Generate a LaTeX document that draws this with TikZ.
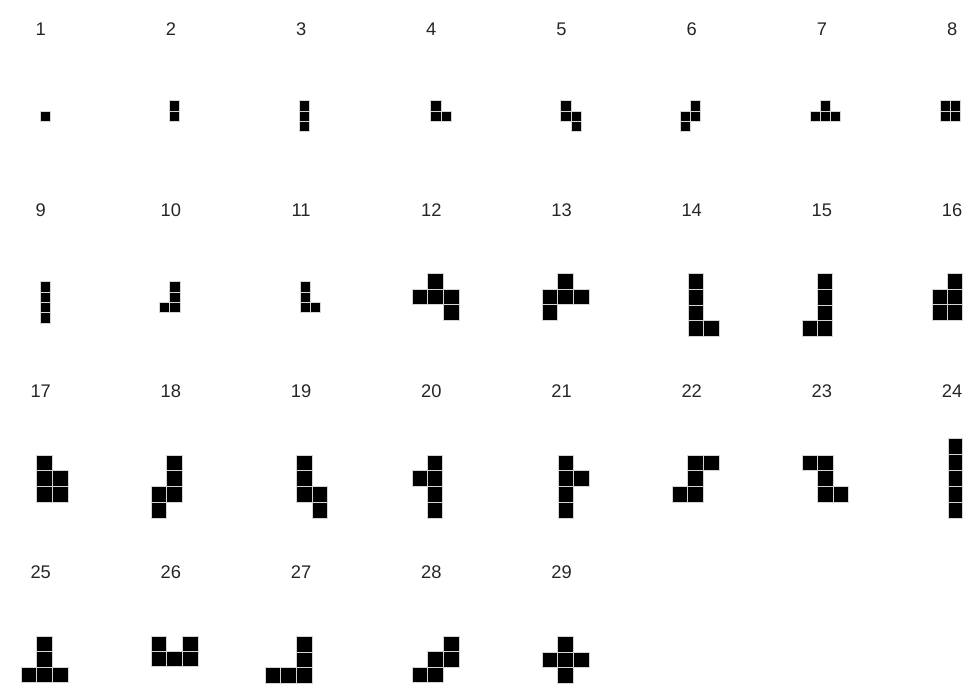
\documentclass[tikz,border=0pt]{standalone}
\usepackage{fontspec}
\setmainfont{Liberation Sans}
\definecolor{labelgray}{HTML}{262626}
\definecolor{seamgray}{HTML}{D4D4D4}
% one piece: x0, y0, cell width, cell height, list of col/row
\newcommand{\piece}[5]{%
  \foreach \c/\r in {#5}
    \filldraw[cell] ({#1+\c*#3},{#2+\r*#4}) rectangle +(#3,#4);
}
\begin{document}
\begin{tikzpicture}[
    x=1pt, y=-1pt,
    cell/.style={fill=black, draw=seamgray, line width=1pt},
    num/.style={text=labelgray, font=\fontsize{18.3}{21}\selectfont, inner sep=0pt}
]
    \useasboundingbox (0,0) rectangle (978,697);
    % Numbers above the pieces
    \foreach \n in {1,...,29} {
        \pgfmathtruncatemacro{\col}{mod(\n-1,8)}
        \pgfmathtruncatemacro{\row}{(\n-1)/8}
        \node[num] (lbl\n) at ({40.7+130.2*\col},{29+181*\row}) {\n};
    }
    % Row 1
    \piece{40}{100.7}{10.33}{10.33}{0/1}
    \piece{169.3}{100.7}{10.33}{10.33}{0/0,0/1}
    \piece{299.3}{100.7}{10.33}{10.33}{0/0,0/1,0/2}
    \piece{430.7}{100.7}{10.33}{10.33}{0/0,0/1,1/1}
    \piece{560.7}{100.7}{10.33}{10.33}{0/0,0/1,1/1,1/2}
    \piece{680}{100.7}{10.33}{10.33}{1/0,0/1,1/1,0/2}
    \piece{810}{100.7}{10.33}{10.33}{1/0,0/1,1/1,2/1}
    \piece{940}{100.7}{10.33}{10.33}{0/0,1/0,0/1,1/1}
    % Row 2
    \piece{40}{281.7}{10.4}{10.4}{0/0,0/1,0/2,0/3}
    \piece{159.3}{281.7}{10.4}{10.4}{1/0,1/1,0/2,1/2}
    \piece{300}{281.7}{10.4}{10.4}{0/0,0/1,0/2,1/2}
    \piece{412}{273.3}{15.7}{15.8}{1/0,0/1,1/1,2/1,2/2}
    \piece{542}{273.3}{15.7}{15.8}{1/0,0/1,1/1,2/1,0/2}
    \piece{688.3}{273.3}{15.4}{15.85}{0/0,0/1,0/2,0/3,1/3}
    \piece{802.3}{273.3}{15.2}{15.85}{1/0,1/1,1/2,1/3,0/3}
    \piece{932}{273.3}{15.35}{15.8}{1/0,0/1,1/1,0/2,1/2}
    % Row 3
    \piece{36.7}{455}{15.8}{15.8}{0/0,0/1,1/1,0/2,1/2}
    \piece{151}{455}{15.5}{15.8}{1/0,1/1,1/2,0/2,0/3}
    \piece{296.7}{455}{15.6}{15.8}{0/0,0/1,0/2,1/2,1/3}
    \piece{412}{455}{15.35}{15.8}{1/0,0/1,1/1,1/2,1/3}
    \piece{558.3}{455}{15.35}{15.8}{0/0,0/1,1/1,0/2,0/3}
    \piece{672}{455}{15.7}{15.8}{1/0,2/0,1/1,0/2,1/2}
    \piece{802.3}{455}{15.55}{15.8}{0/0,1/0,1/1,1/2,2/2}
    \piece{948.3}{438.3}{14.4}{16}{0/0,0/1,0/2,0/3,0/4}
    % Row 4
    \piece{21}{636}{15.75}{15.55}{1/0,1/1,0/2,1/2,2/2}
    \piece{151}{636}{15.7}{15.35}{0/0,2/0,0/1,1/1,2/1}
    \piece{265}{636.7}{15.75}{15.55}{2/0,2/1,0/2,1/2,2/2}
    \piece{412}{636}{15.7}{15.55}{2/0,1/1,2/1,0/2,1/2}
    \piece{542}{636.7}{15.7}{15.55}{1/0,0/1,1/1,2/1,1/2}
\end{tikzpicture}
\end{document}
